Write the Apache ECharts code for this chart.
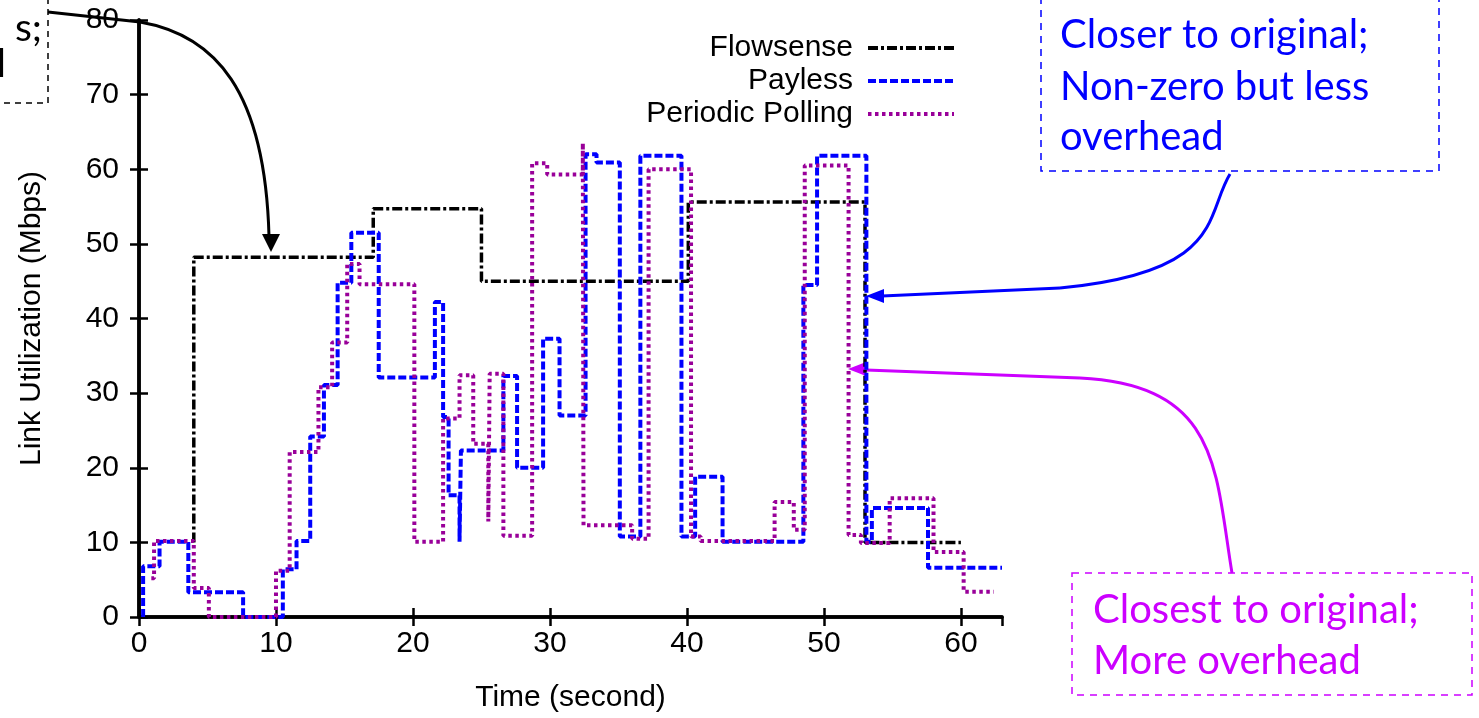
<!DOCTYPE html>
<html>
<head>
<meta charset="utf-8">
<script src="https://cdn.jsdelivr.net/npm/echarts@6/dist/echarts.min.js"></script>
<style>
  html, body { margin: 0; padding: 0; background: #fff; }
  #chart { width: 1479px; height: 718px; }
</style>
</head>
<body>
<div id="chart"></div>
<script>
// step data: [time where value starts, value in Mbps]
const flowsense = [[4, 10], [4, 48.2], [17.1, 54.7], [25, 45], [40.1, 55.6], [53, 10], [60, 10]]
const payless = [
  [0.3, 0], [0.3, 6.8], [1.5, 10.1], [3.6, 3.3], [7.6, 0], [10.5, 6.4], [11.5, 10.2],
  [12.5, 24.2], [13.5, 31.1], [14.5, 44.8], [15.5, 51.5], [17.5, 32.1], [21.6, 42.2],
  [22.2, 26.8], [22.6, 16.3], [23.4, 10.1], [23.5, 22.3], [26.6, 32.3], [27.6, 20.0],
  [29.5, 37.3], [30.7, 27.0], [32.6, 62.0], [33.4, 60.9], [35.1, 10.8], [36.6, 61.8],
  [39.6, 10.8], [40.6, 18.8], [42.6, 10.1], [48.5, 44.5], [49.5, 61.8], [53.1, 10.1],
  [53.5, 14.6], [57.6, 6.6], [63, 6.6]
]
const polling = [
  [0.9, 5.2], [1.1, 10.2], [4.0, 3.9], [5.1, 0], [10.0, 6.2], [11.0, 22.1], [13.1, 30.8],
  [14.1, 36.8], [15.2, 47.3], [16.1, 44.6], [20.1, 10.1], [22.2, 26.6], [23.4, 32.4],
  [24.4, 23.2], [25.5, 12.8], [25.6, 32.6], [26.6, 10.9], [28.7, 60.8], [29.8, 59.3],
  [32.4, 63.5], [32.45, 12.3], [36.0, 10.5], [37.2, 60.0], [40.3, 10.8], [41.0, 10.2],
  [46.4, 15.4], [47.8, 11.7], [48.6, 60.5], [51.8, 11.0], [52.7, 9.9], [54.8, 15.9],
  [58.0, 8.7], [60.2, 3.4], [62.4, 3.4]
]
const seriesNames = ['Flowsense', 'Payless', 'Periodic Polling']
const xTicks = { min: 0, max: 63, interval: 10 }
const yTicks = { min: 0, max: 80, interval: 10 }

const font = 'Liberation Sans'
const noteFont = 'Lato'
const blue = '#0000ff'
const magenta = '#cc00ff'
const purple = '#990099'

const chart = echarts.init(document.getElementById('chart'))

const axisCommon = {
  type: 'value',
  axisLine: { lineStyle: { color: '#000', width: 3.5 } },
  axisTick: { inside: true, length: 9, lineStyle: { color: '#000', width: 2.5 } },
  splitLine: { show: false }
}

const option = {
  animation: false,
  backgroundColor: '#fff',
  grid: { left: 139, right: 477, top: 20, bottom: 99 },
  legend: {
    data: seriesNames,
    orient: 'vertical',
    align: 'right',
    right: 518,
    top: 28,
    itemWidth: 86,
    itemHeight: 14,
    itemGap: 3,
    itemStyle: { opacity: 0 },
    lineStyle: { width: 4 },
    textStyle: { fontFamily: font, fontSize: 30, color: '#000', padding: [0, 10, 0, 0] }
  },
  xAxis: [
    Object.assign({}, axisCommon, xTicks, {
      name: 'Time (second)',
      nameLocation: 'middle',
      nameGap: 66,
      nameTextStyle: { fontFamily: font, fontSize: 30, color: '#000' },
      axisLabel: { fontFamily: font, fontSize: 30, color: '#000', margin: 12, showMaxLabel: false }
    }),
    Object.assign({}, axisCommon, xTicks, { position: 'top', axisLabel: { show: false } })
  ],
  yAxis: [
    Object.assign({}, axisCommon, yTicks, {
      name: 'Link Utilization (Mbps)',
      nameLocation: 'middle',
      nameGap: 92,
      nameTextStyle: { fontFamily: font, fontSize: 30, color: '#000' },
      axisLabel: { fontFamily: font, fontSize: 30, color: '#000', margin: 20 }
    }),
    Object.assign({}, axisCommon, yTicks, { position: 'right', axisLabel: { show: false } })
  ],
  series: [
    {
      name: 'Flowsense', type: 'line', step: 'end', data: flowsense, symbol: 'none',
      itemStyle: { color: '#000' },
      lineStyle: { color: '#000', width: 3.5, type: [10, 3, 3, 3] }
    },
    {
      name: 'Payless', type: 'line', step: 'end', data: payless, symbol: 'none',
      itemStyle: { color: blue },
      lineStyle: { color: blue, width: 4, type: [8, 3] }
    },
    {
      name: 'Periodic Polling', type: 'line', step: 'end', data: polling, symbol: 'none',
      itemStyle: { color: purple },
      lineStyle: { color: purple, width: 4, type: [3.5, 3.5] }
    }
  ],
  graphic: [
    // cut-off note at the top left
    { type: 'rect', shape: { x: -10, y: -10, width: 58, height: 113 },
      style: { fill: 'none', stroke: '#000', lineWidth: 1.5, lineDash: [6, 5] } },
    { type: 'text', x: 42, y: 28, style: { text: 's;', font: '39px ' + noteFont, fill: '#000', align: 'right', verticalAlign: 'middle' } },
    { type: 'text', x: 6, y: 64, style: { text: 'l', font: '39px ' + noteFont, fill: '#000', align: 'right', verticalAlign: 'middle' } },
    { type: 'polyline', shape: { points: [[48, 12], [140, 22]] }, style: { stroke: '#000', lineWidth: 3, fill: 'none' } },
    { type: 'bezierCurve', shape: { x1: 140, y1: 22, cpx1: 215, cpy1: 35, cpx2: 265, cpy2: 90, x2: 269, y2: 236 },
      style: { stroke: '#000', lineWidth: 3, fill: 'none' } },
    { type: 'polygon', shape: { points: [[262, 234], [280, 234], [271, 252]] }, style: { fill: '#000' } },

    // blue note
    { type: 'rect', shape: { x: 1041, y: -10, width: 398, height: 181 },
      style: { fill: 'none', stroke: blue, lineWidth: 1.5, lineDash: [7, 6] } },
    { type: 'text', x: 1060, y: 35, style: { text: 'Closer to original;', font: '40px ' + noteFont, fill: blue, verticalAlign: 'middle' } },
    { type: 'text', x: 1060, y: 87, style: { text: 'Non-zero but less', font: '40px ' + noteFont, fill: blue, verticalAlign: 'middle' } },
    { type: 'text', x: 1060, y: 137, style: { text: 'overhead', font: '40px ' + noteFont, fill: blue, verticalAlign: 'middle' } },
    { type: 'bezierCurve', shape: { x1: 1230, y1: 174, cpx1: 1205, cpy1: 215, cpx2: 1225, cpy2: 272, x2: 1060, y2: 288 },
      style: { stroke: blue, lineWidth: 3, fill: 'none' } },
    { type: 'polyline', shape: { points: [[1060, 288], [882, 296]] }, style: { stroke: blue, lineWidth: 3, fill: 'none' } },
    { type: 'polygon', shape: { points: [[866, 296], [884, 289], [884, 303]] }, style: { fill: blue } },

    // magenta note
    { type: 'rect', shape: { x: 1072, y: 573, width: 400, height: 122 },
      style: { fill: 'none', stroke: magenta, lineWidth: 1.5, lineDash: [7, 6] } },
    { type: 'text', x: 1093, y: 610, style: { text: 'Closest to original;', font: '40px ' + noteFont, fill: magenta, verticalAlign: 'middle' } },
    { type: 'text', x: 1093, y: 661, style: { text: 'More overhead', font: '40px ' + noteFont, fill: magenta, verticalAlign: 'middle' } },
    { type: 'bezierCurve', shape: { x1: 1232, y1: 573, cpx1: 1215, cpy1: 470, cpx2: 1220, cpy2: 385, x2: 1080, y2: 378 },
      style: { stroke: magenta, lineWidth: 3, fill: 'none' } },
    { type: 'polyline', shape: { points: [[1080, 378], [866, 370]] }, style: { stroke: magenta, lineWidth: 3, fill: 'none' } },
    { type: 'polygon', shape: { points: [[848, 369], [866, 362], [866, 376]] }, style: { fill: magenta } }
  ]
}

chart.setOption(option)
</script>
</body>
</html>
